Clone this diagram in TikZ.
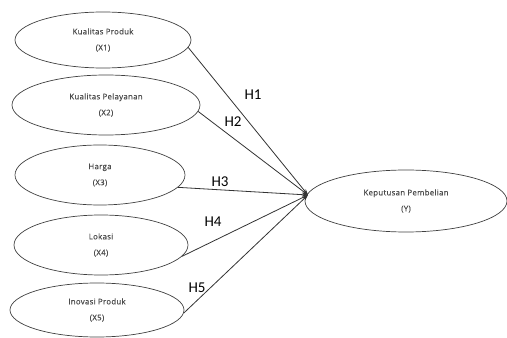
\documentclass[tikz,border=0pt]{standalone}
\usepackage{fontspec}
\setmainfont{Open Sans}
\newfontfamily\varfont[LetterSpace=4, FakeBold=0.6]{Open Sans}
\newfontfamily\hfont{Carlito}
\usetikzlibrary{shapes.geometric, arrows.meta}

\begin{document}
\begin{tikzpicture}[x=1pt, y=1pt]
        % 定義樣式
        \tikzstyle{variabel} = [ellipse, draw=black!75, line width=0.7pt, inner sep=0pt, text=black!70, align=center, font=\varfont\fontsize{7.8}{9}\selectfont]
        \tikzstyle{hipotesis} = [text=black, font=\hfont\fontsize{15}{15}\selectfont, inner sep=0pt]
        \tikzstyle{arrow} = [draw=black!80, line width=0.8pt, -{Stealth[length=6pt, width=4pt]}]

        \useasboundingbox (0,0) rectangle (507,338);

        % Variabel bebas
        \node (x1) [variabel, minimum width=176, minimum height=56] at (103,298) {Kualitas Produk\\[7pt](X1)};
        \node (x2) [variabel, minimum width=188, minimum height=60] at (106,233) {Kualitas Pelayanan\\[7pt](X2)};
        \node (x3) [variabel, minimum width=170, minimum height=60] at (100,163) {Harga\\[7pt](X3)};
        \node (x4) [variabel, minimum width=174, minimum height=60] at (101,93) {Lokasi\\[7pt](X4)};
        \node (x5) [variabel, minimum width=174, minimum height=54] at (97,28) {Inovasi Produk\\[7pt](X5)};

        % Variabel terikat
        \node (y) [variabel, minimum width=202, minimum height=62] at (406,137) {Keputusan Pembelian\\[7pt](Y)};
        \coordinate (temu) at (308,143);

        % 繪製箭頭
        \draw [arrow] (x1.-5) -- (temu);
        \draw [arrow] (x2.-4) -- (temu);
        \draw [arrow] (x3.-9) -- (temu);
        \draw [arrow] (x4.-8) -- (temu);
        \draw [arrow] (x5.-2) -- (temu);

        % Label hipotesis
        \node (h1) [hipotesis] at (253,243) {H1};
        \node (h2) [hipotesis] at (233,216) {H2};
        \node (h3) [hipotesis] at (220,156) {H3};
        \node (h4) [hipotesis] at (213,116) {H4};
        \node (h5) [hipotesis] at (197,50) {H5};

    \end{tikzpicture}
\end{document}
